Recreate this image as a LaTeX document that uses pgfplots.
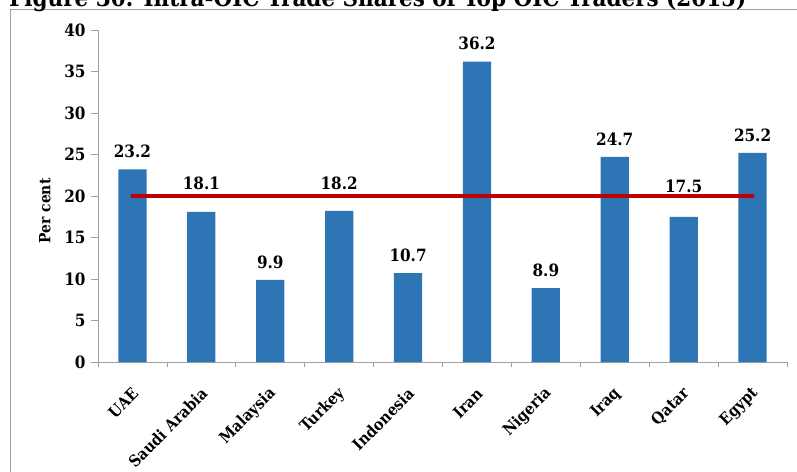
\documentclass[border=0pt]{standalone}
\usepackage{fontspec}
\setmainfont{DejaVu Serif Condensed}
\usepackage{pgfplots}
\pgfplotsset{compat=1.18}
\usepackage{pgfplotstable}

\definecolor{barblue}{RGB}{46,117,182}
\definecolor{linered}{RGB}{192,0,0}
\definecolor{axgrey}{RGB}{160,160,160}

\pgfplotstableread{
x y off
0 23.2 18
1 18.1 29
2 9.9 18
3 18.2 28
4 10.7 18
5 36.2 18
6 8.9 18
7 24.7 18
8 17.5 31
9 25.2 18
}\bars

\pgfplotstableread{
x y
0 20
1 20
2 20
3 20
4 20
5 20
6 20
7 20
8 20
9 20
}\avg

\begin{document}
\begin{tikzpicture}
\useasboundingbox (0,0) rectangle (797bp,472bp);
\draw[axgrey, line width=1bp] (10.5bp,-10bp) -- (10.5bp,462.5bp) -- (810bp,462.5bp);
\node[anchor=base west, font=\bfseries\fontsize{24}{28}\selectfont, inner sep=0pt] at (9bp,465bp) {Figure 30: Intra-OIC Trade Shares of Top OIC Traders (2015)};
\begin{axis}[
  at={(98bp,110bp)}, anchor=south west,
  scale only axis, width=689bp, height=332bp,
  xmin=-0.5, xmax=9.5, ymin=0, ymax=40,
  axis lines*=left,
  axis line style={axgrey, line width=0.8bp},
  tick align=outside,
  xtick={0,...,9},
  xticklabels={UAE, Saudi Arabia, Malaysia, Turkey, Indonesia, Iran, Nigeria, Iraq, Qatar, Egypt},
  major x tick style={draw=none},
  minor xtick={-0.5,0.5,1.5,2.5,3.5,4.5,5.5,6.5,7.5,8.5,9.5},
  minor tick length=5bp,
  minor x tick style={axgrey, line width=0.8bp},
  ytick={0,5,...,40},
  major tick length=7bp,
  y tick style={axgrey, line width=0.8bp},
  /pgf/number format/assume math mode=true,
  yticklabel style={font=\bfseries\fontsize{17}{20}\selectfont, xshift=-2bp},
  xticklabel style={font=\bfseries\fontsize{16}{19}\selectfont, xshift=3bp, yshift=-22bp, rotate=45, anchor=east, inner sep=0pt},
  every axis y label/.style={at={(axis description cs:-0.077,0.455)}, rotate=90, anchor=center, font=\bfseries\fontsize{15.5}{18}\selectfont},
  ylabel={Per cent},
  clip=false,
]
\addplot[ybar, bar width=0.41, fill=barblue, draw=none,
  nodes near coords,
  visualization depends on={\thisrow{off}\as\myoff},
  every node near coord/.append style={font=\bfseries\fontsize{17}{20}\selectfont, inner sep=0pt, text=black, yshift={(\myoff-6.8)*1bp}},
] table[x=x, y=y] {\bars};
\addplot[linered, line width=4bp, line cap=round, mark=none] table[x=x, y=y] {\avg};
\end{axis}
\end{tikzpicture}
\end{document}
